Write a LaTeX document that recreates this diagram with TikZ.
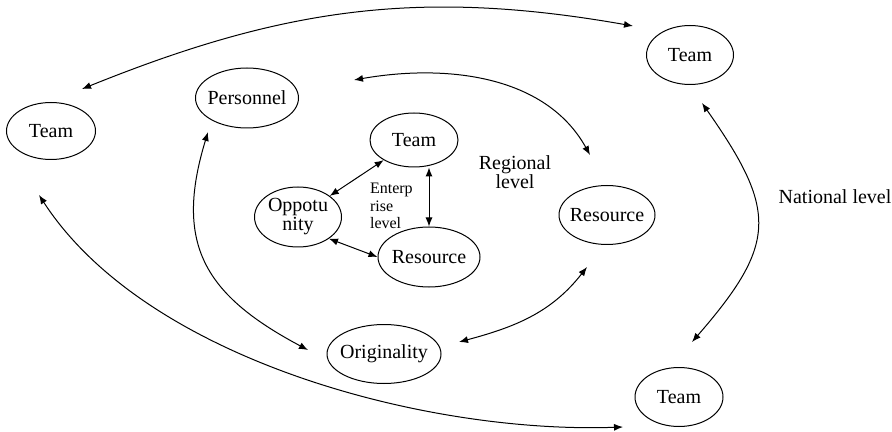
\documentclass[tikz,border=0pt]{standalone}
\usepackage{fontspec}
\setmainfont{Liberation Serif}
\usetikzlibrary{shapes.geometric,arrows.meta,calc}
\tikzset{%
  entity/.style   = {shape=ellipse, draw, line width=0.5pt,%
                     inner xsep=-3pt, inner ysep=0pt, align=center,%
                     font=\fontsize{10}{9.5}\selectfont},%
  levelname/.style = {align=center, font=\fontsize{10}{9.5}\selectfont},%
  biarrow/.style  = {line width=0.5pt,%
                     {Latex[length=4.5pt,width=3.5pt]}-{Latex[length=4.5pt,width=3.5pt]}}%
}
\begin{document}
\begin{tikzpicture}
[x=0.5pt,y=0.5pt]
	\useasboundingbox (0,0) rectangle (892,-432);
	% national level
	\node (tl) at (51,-131) [entity,minimum width=44.5pt,minimum height=28.5pt] {Team};
	\node (tr) at (690,-55) [entity,minimum width=43.5pt,minimum height=29.5pt] {Team};
	\node (tb) at (679,-397) [entity,minimum width=44pt,minimum height=29.5pt] {Team};
	% regional level
	\node (per) at (247,-98) [entity,minimum width=51.5pt,minimum height=30pt] {Personnel};
	\node (rs) at (607,-215) [entity,minimum width=48pt,minimum height=29.5pt] {Resource};
	\node (orig) at (384,-354) [entity,minimum width=57pt,minimum height=29.5pt] {Originality};
	% enterprise level
	\node (team) at (414,-140) [entity,minimum width=44pt,minimum height=27pt] {Team};
	\node (opp) at (298,-217) [entity,minimum width=43.5pt,minimum height=30pt] {Oppotu\\nity};
	\node (res) at (429,-257) [entity,minimum width=51pt,minimum height=30pt] {Resource};
	% labels
	\node (ent) at (363,-206) [anchor=west,align=left,font=\fontsize{8}{8.75}\selectfont] {Enterp\\rise\\level};
	\node (reg) at (515,-172) [levelname] {Regional\\level};
	\node (nat) at (835,-197) [levelname] {National level};
	% arrow ends
	\coordinate (tl-a) at ($(tl)+(31,42)$);
	\coordinate (tl-b) at ($(tl)+(-12,-64)$);
	\coordinate (tr-a) at ($(tr)+(-57,29)$);
	\coordinate (tr-b) at ($(tr)+(12,-48)$);
	\coordinate (tb-a) at ($(tb)+(13,55)$);
	\coordinate (tb-b) at ($(tb)+(-56,-30)$);
	\coordinate (per-a) at ($(per)+(107,18)$);
	\coordinate (per-b) at ($(per)+(-39,-34)$);
	\coordinate (rs-a) at ($(rs)+(-17,60)$);
	\coordinate (rs-b) at ($(rs)+(-20,-52)$);
	\coordinate (orig-a) at ($(orig)+(-76,4)$);
	\coordinate (orig-b) at ($(orig)+(75,12)$);
	% outer ring
	\draw [biarrow] (tl-a) to [out=22,in=170] (tr-a);
	\draw [biarrow] (tr-b) to [out=-55,in=49,looseness=1.4] (tb-a);
	\draw [biarrow] (tl-b) to [out=-57,in=182,looseness=0.8] (tb-b);
	% middle ring
	\draw [biarrow] (per-a) to [out=10,in=119,looseness=0.95] (rs-a);
	\draw [biarrow] (per-b) to [out=-107,in=152,looseness=1.25] (orig-a);
	\draw [biarrow] (orig-b) to [out=15,in=232] (rs-b);
	% inner triangle
	\draw [biarrow] (opp) -- (team);
	\draw [biarrow] (opp.-35) -- (res.west);
	\draw [biarrow] (res.north) -- (res.north |- team.south);
\end{tikzpicture}
\end{document}
